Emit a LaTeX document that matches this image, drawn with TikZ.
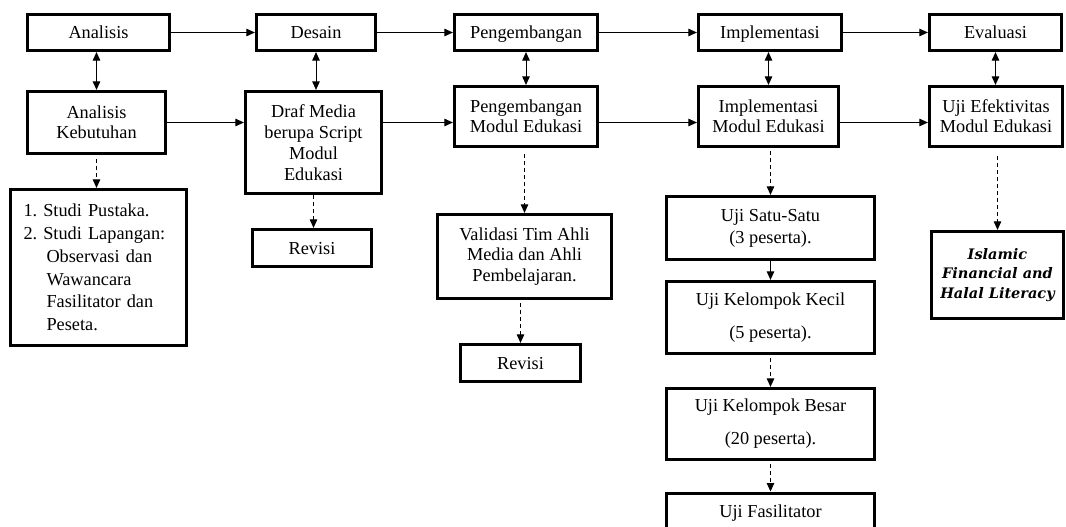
\documentclass[tikz,border=0pt]{standalone}
\usepackage{fontspec}
\setmainfont{Liberation Serif}
\newfontfamily\isfont{DejaVu Serif}
\usetikzlibrary{arrows.meta}
\begin{document}
\frenchspacing
\begin{tikzpicture}[x=1pt,y=-1pt,
  box/.style={draw, line width=3.2pt, inner sep=0pt, align=center, font=\fontsize{18.3}{20}\selectfont},
  oneline/.style={text height=12.3pt, text depth=0pt},
  arr/.style={line width=0.9pt, -{Triangle[length=8.5pt,width=7.5pt]}},
  darr/.style={line width=0.9pt, {Triangle[length=8.5pt,width=7.5pt]}-{Triangle[length=8.5pt,width=7.5pt]}},
  dsharr/.style={arr, dash pattern=on 4pt off 3pt}
]
\useasboundingbox (0,0) rectangle (1066,527);
% top row
\node[box, oneline, minimum width=142pt, minimum height=36pt] (an) at (98.5,32.5) {Analisis};
\node[box, oneline, minimum width=119pt, minimum height=36pt] (de) at (316,32.5) {Desain};
\node[box, oneline, minimum width=143pt, minimum height=36pt] (pe) at (526,32.5) {Pengembangan};
\node[box, oneline, minimum width=143pt, minimum height=36pt] (im) at (770,32.5) {Implementasi};
\node[box, oneline, minimum width=132pt, minimum height=36pt] (ev) at (995.5,32.5) {Evaluasi};
% second row
\node[box, minimum width=138pt, minimum height=62pt] (ak) at (96.5,122.5) {Analisis\\Kebutuhan};
\node[box, minimum width=136pt, minimum height=102pt, font=\fontsize{18.3}{21}\selectfont] (dm) at (313.5,142.5) {Draf Media\\berupa Script\\Modul\\Edukasi};
\node[box, minimum width=143pt, minimum height=60pt] (pm) at (526,116.5) {Pengembangan\\Modul Edukasi};
\node[box, minimum width=140pt, minimum height=60pt] (imm) at (768.5,116.5) {Implementasi\\Modul Edukasi};
\node[box, minimum width=133pt, minimum height=60pt] (ue) at (996,116.5) {Uji Efektivitas\\Modul Edukasi};
% third row and below
\node[box, minimum width=176pt, minimum height=156pt, text width=150pt, align=left, font=\fontsize{18.3}{22.7}\selectfont] (st) at (98.5,267.5) {1. Studi Pustaka.\\2. Studi Lapangan:\\\hspace*{23pt}Observasi dan\\\hspace*{23pt}Wawancara\\\hspace*{23pt}Fasilitator dan\\\hspace*{23pt}Peseta.};
\node[box, oneline, minimum width=119pt, minimum height=37pt] (r1) at (312,248) {Revisi};
\node[box, minimum width=174pt, minimum height=84pt, font=\fontsize{18.3}{20.5}\selectfont] (va) at (524.5,256.5) {Validasi Tim Ahli\\Media dan Ahli\\Pembelajaran.};
\node[box, oneline, minimum width=120pt, minimum height=37pt] (r2) at (520.5,363) {Revisi};
\node[box, minimum width=208pt, minimum height=63pt, font=\fontsize{18.3}{22}\selectfont] (us) at (770.5,228) {Uji Satu-Satu\\(3 peserta).};
\node[box, minimum width=208pt, minimum height=72pt, font=\fontsize{18.3}{33}\selectfont] (kk) at (770.5,317.5) {Uji Kelompok Kecil\\(5 peserta).};
\node[box, minimum width=208pt, minimum height=71pt, font=\fontsize{18.3}{33}\selectfont] (kb) at (770.5,424) {Uji Kelompok Besar\\(20 peserta).};
\node[box, anchor=north, minimum width=208pt, minimum height=57pt, text height=12pt, text depth=20pt] (uf) at (770.5,491.5) {Uji Fasilitator};
\node[box, minimum width=132pt, minimum height=87pt, font=\isfont\bfseries\itshape\fontsize{14.5}{19.3}\selectfont] (is) at (997.5,275) {Islamic\\Financial and\\Halal Literacy};
% top row arrows
\draw[arr] (an) -- (de);
\draw[arr] (de) -- (pe);
\draw[arr] (pe) -- (im);
\draw[arr] (im) -- (ev);
% second row arrows
\draw[arr] (ak.east) -- (ak.east -| dm.west);
\draw[arr] (dm.east |- ak.east) -- (pm.west |- ak.east);
\draw[arr] (pm.east |- ak.east) -- (imm.west |- ak.east);
\draw[arr] (imm.east |- ak.east) -- (ue.west |- ak.east);
% double arrows
\draw[darr] (ak.north |- an.south) -- (ak.north);
\draw[darr] (de.south) -- (de.south |- dm.north);
\draw[darr] (pe.south) -- (pm.north);
\draw[darr] (imm.north |- im.south) -- (imm.north);
\draw[darr] (ev.south) -- (ev.south |- ue.north);
% dashed arrows
\draw[dsharr, shorten <=4pt] (ak.south) -- (ak.south |- st.north);
\draw[dsharr] (dm.south) -- (dm.south |- r1.north);
\draw[dsharr, shorten <=6pt] (va.north |- pm.south) -- (va.north);
\draw[dsharr, shorten <=3pt] (r2.north |- va.south) -- (r2.north);
\draw[dsharr, shorten <=3pt] (us.north |- imm.south) -- (us.north);
\draw[dsharr, shorten <=8pt] (ue.south -| is.north) -- (is.north);
\draw[arr] (us) -- (kk);
\draw[dsharr, shorten <=3pt] (kk) -- (kb);
\draw[dsharr, shorten <=3pt] (kb) -- (uf);
\end{tikzpicture}
\end{document}
